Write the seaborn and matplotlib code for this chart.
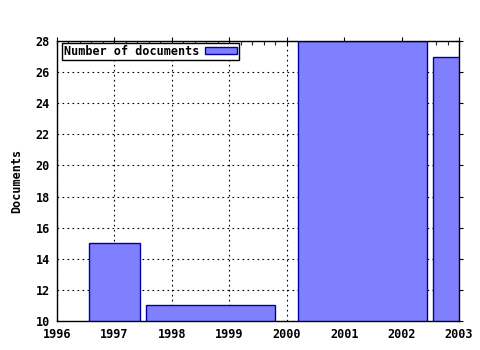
import matplotlib
matplotlib.use("Agg")
import matplotlib.pyplot as plt
import seaborn as sns
from matplotlib.ticker import MultipleLocator
from matplotlib.patches import Patch

# Data
bar_left = [1996.55, 1997.55, 2000.2, 2002.55]
bar_width = [0.9, 2.25, 2.25, 0.9]
documents = [15, 11, 28, 27]
series_label = "Number of documents"
x_ticks = [1996, 1997, 1998, 1999, 2000, 2001, 2002, 2003]
y_ticks = [10, 12, 14, 16, 18, 20, 22, 24, 26, 28]

sns.set_style("white")
plt.rcParams["font.family"] = ["DejaVu Sans Mono", "DejaVu Sans"]
plt.rcParams["font.weight"] = "bold"
plt.rcParams["text.color"] = "black"
plt.rcParams["axes.labelcolor"] = "black"

fig = plt.figure(figsize=(4.8, 3.5), dpi=100)
ax = fig.add_axes([57 / 480, 29 / 350, (459 - 57) / 480, (321 - 41) / 350])

fill = "#8080ff"
edge = "#0000a0"
ax.bar(bar_left, documents, width=bar_width, align="edge", bottom=0,
       color=fill, edgecolor=edge, linewidth=1.0, zorder=2, clip_on=True)

ax.set_xlim(1996, 2003)
ax.set_ylim(10, 28)
ax.set_xticks(x_ticks)
ax.set_yticks(y_ticks)
ax.xaxis.set_minor_locator(MultipleLocator(0.2))

ax.grid(True, which="major", color="black", linestyle=(0, (1.5, 3)), linewidth=0.8, zorder=0)
ax.set_axisbelow(True)

for s in ax.spines.values():
    s.set_color("black")
    s.set_linewidth(1.0)
    s.set_zorder(3)

ax.tick_params(axis="both", which="major", direction="inout", length=6, width=0.8,
               top=True, right=True, labelsize=8.5, colors="black", pad=2)
ax.tick_params(axis="x", which="minor", direction="in", length=3, width=0.8, top=True)
for lbl in ax.get_xticklabels() + ax.get_yticklabels():
    lbl.set_fontweight("bold")

ax.set_ylabel("Documents", fontsize=8.5, fontweight="bold", color="black", labelpad=9)
ax.set_xlabel("")

handle = Patch(facecolor=fill, edgecolor=edge, linewidth=1.0)
leg = ax.legend([handle], [series_label], loc="upper left", bbox_to_anchor=(0.012, 0.993),
                frameon=True, fancybox=False, framealpha=1, edgecolor="black",
                prop={"size": 8.5, "weight": "bold"}, markerfirst=False,
                handlelength=2.7, handleheight=0.55, borderpad=0.15, handletextpad=0.55,
                borderaxespad=0)
leg.get_frame().set_linewidth(1.0)
for t in leg.get_texts():
    t.set_color("black")

fig.savefig("out.png", dpi=100)
